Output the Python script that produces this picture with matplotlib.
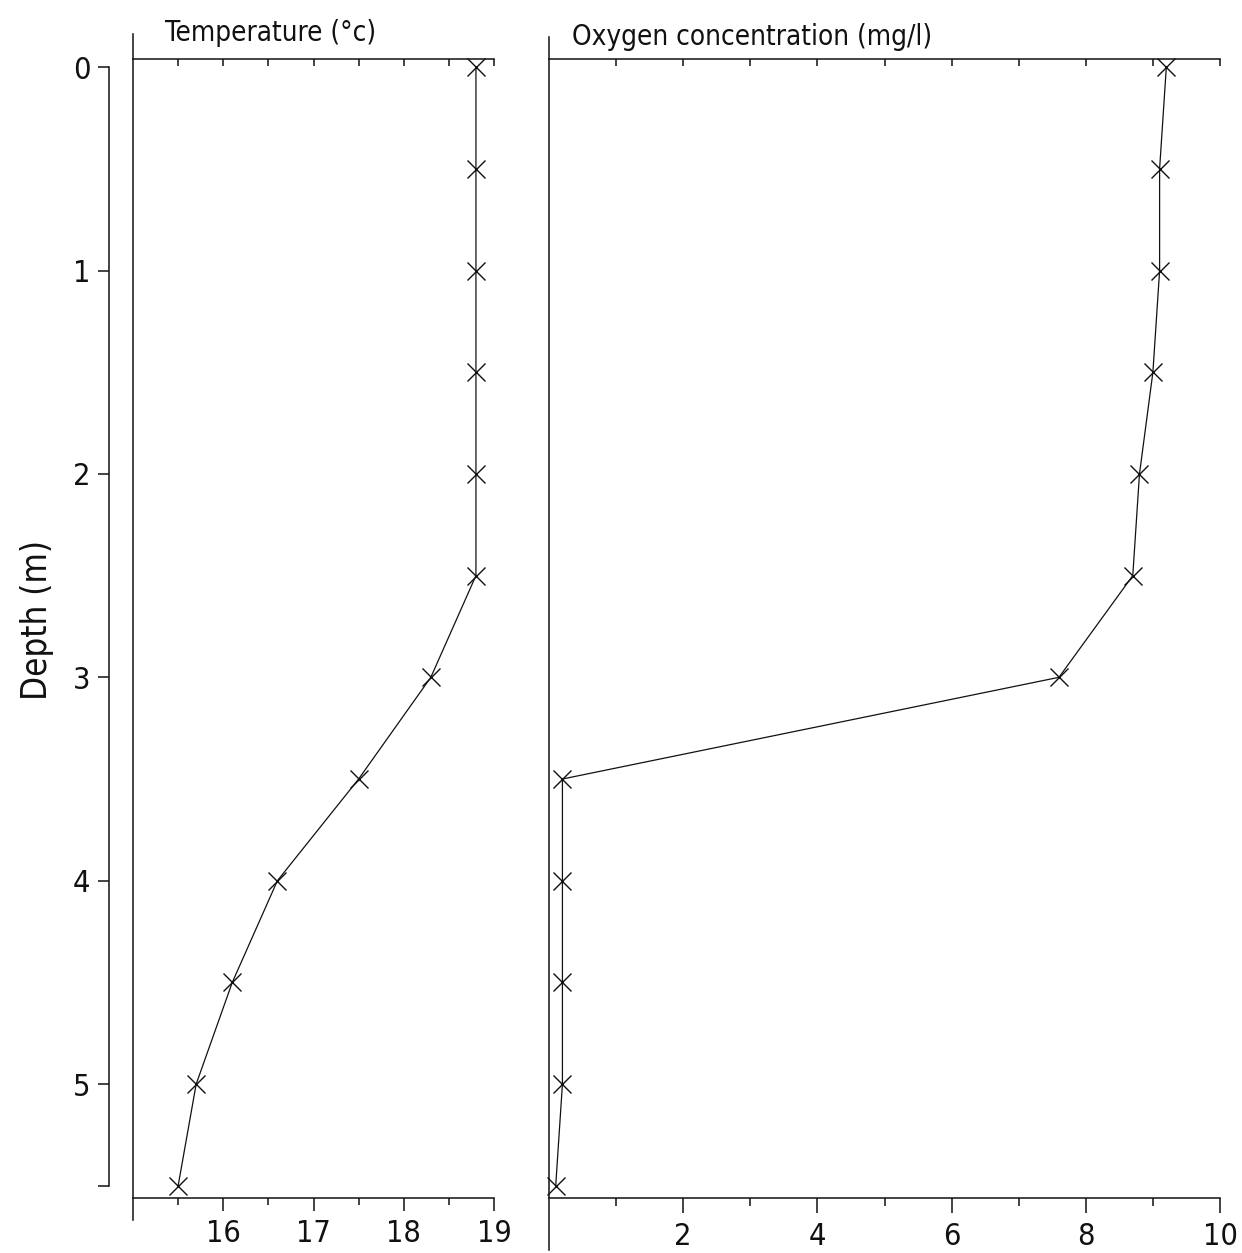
import matplotlib
matplotlib.use("Agg")
import matplotlib.pyplot as plt
from matplotlib.lines import Line2D
from matplotlib.ticker import FixedLocator, NullFormatter

plt.rcParams['font.family'] = ['DejaVu Sans']
plt.rcParams['font.stretch'] = 'condensed'

# Profile data: depth (m) and measured values
depth = [0.0, 0.5, 1.0, 1.5, 2.0, 2.5, 3.0, 3.5, 4.0, 4.5, 5.0, 5.5]
temperature = [18.8, 18.8, 18.8, 18.8, 18.8, 18.8, 18.3, 17.5, 16.6, 16.1, 15.7, 15.5]
oxygen = [9.2, 9.1, 9.1, 9.0, 8.8, 8.7, 7.6, 0.2, 0.2, 0.2, 0.2, 0.1]

depth_ticks = [0, 1, 2, 3, 4, 5]
temp_major = [16, 17, 18, 19]
temp_minor = [15.5, 16.5, 17.5, 18.5]
temp_top = [15.5, 16, 16.5, 17, 17.5, 18, 18.5, 19]
oxy_major = [2, 4, 6, 8, 10]
oxy_minor = [1, 3, 5, 7, 9]
oxy_top = [1, 2, 3, 4, 5, 6, 7, 8, 9, 10]

W, H = 1242, 1253
fig = plt.figure(figsize=(W / 100, H / 100), dpi=100)

ink = '#111111'
lw_axis = 1.1
lw_data = 0.9
tick_fs = 22

y_top_px, y_bot_px = 59, 1198
bottom = 1 - y_bot_px / H
height = (y_bot_px - y_top_px) / H
ylim = (5.56, -0.04)

ax1 = fig.add_axes([133 / W, bottom, (494 - 133) / W, height])
ax2 = fig.add_axes([549 / W, bottom, (1220 - 549) / W, height])


def style_panel(ax, xlim, major, minor, top_ticks, line_bottom, line_top):
    ax.set_xlim(*xlim)
    ax.set_ylim(*ylim)
    ax.spines['right'].set_visible(False)
    for s in ('top', 'bottom', 'left'):
        ax.spines[s].set_linewidth(lw_axis)
        ax.spines[s].set_color(ink)
    ax.spines['top'].set_visible(False)
    # bottom axis: long ticks with labels, short ticks between
    ax.xaxis.set_major_locator(FixedLocator(major))
    ax.xaxis.set_minor_locator(FixedLocator(minor))
    ax.xaxis.set_minor_formatter(NullFormatter())
    ax.tick_params(axis='x', which='major', direction='out', length=9, width=lw_axis,
                   color=ink, labelsize=tick_fs, pad=6, labelcolor=ink)
    ax.tick_params(axis='x', which='minor', direction='out', length=5, width=lw_axis, color=ink)
    # top axis with small inward ticks
    sec = ax.secondary_xaxis('top')
    sec.set_xticks(top_ticks)
    sec.tick_params(direction='in', length=5, width=lw_axis, color=ink, labeltop=False)
    sec.spines['top'].set_linewidth(lw_axis)
    sec.spines['top'].set_color(ink)
    # panel's own left edge, running past the frame
    ax.add_line(Line2D([0, 0], [line_bottom, line_top], transform=ax.transAxes,
                       color=ink, lw=lw_axis, clip_on=False))


# Temperature panel
style_panel(ax1, (15, 19), temp_major, temp_minor, temp_top, -0.019, 1.022)
ax1.spines['left'].set_position(('outward', 17.5))
ax1.spines['left'].set_bounds(0, 5.5)
ax1.yaxis.set_major_locator(FixedLocator(depth_ticks))
ax1.yaxis.set_minor_locator(FixedLocator([5.5]))
ax1.yaxis.set_minor_formatter(NullFormatter())
ax1.tick_params(axis='y', which='both', direction='out', length=8, width=lw_axis,
                color=ink, labelsize=tick_fs, pad=5, labelcolor=ink)
ax1.plot(temperature, depth, color=ink, lw=lw_data, marker='x', markersize=13,
         markeredgewidth=1.0, clip_on=False)
ax1.text(0.089, 1.016, 'Temperature (°c)', transform=ax1.transAxes, fontsize=20,
         ha='left', va='baseline', color=ink)

# Oxygen panel
style_panel(ax2, (0, 10), oxy_major, oxy_minor, oxy_top, -0.046, 1.019)
ax2.spines['left'].set_visible(False)
ax2.yaxis.set_visible(False)
ax2.tick_params(axis='x', which='major', length=11)
ax2.tick_params(axis='x', which='minor', length=6)
ax2.plot(oxygen, depth, color=ink, lw=lw_data, marker='x', markersize=13,
         markeredgewidth=1.0, clip_on=False)
ax2.text(0.034, 1.012, 'Oxygen concentration (mg/l)', transform=ax2.transAxes,
         fontsize=20, ha='left', va='baseline', color=ink)

fig.text(37 / W, 1 - 620 / H, 'Depth (m)', rotation=90, ha='center', va='center',
         fontsize=25, color=ink)

fig.savefig('out.png', dpi=100, facecolor='white')
